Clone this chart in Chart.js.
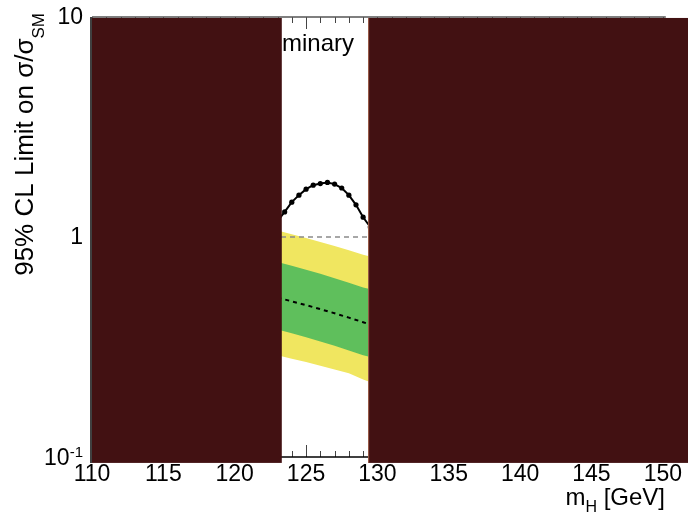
<!DOCTYPE html>
<html>
<head>
<meta charset="utf-8">
<script src="https://cdn.jsdelivr.net/npm/chart.js@4.4.1/dist/chart.umd.min.js"></script>
<style>
  html, body { margin: 0; padding: 0; background: #fff; }
  #wrap { width: 688px; height: 518px; }
</style>
</head>
<body>
<div id="wrap"><canvas id="c" width="688" height="518"></canvas></div>
<script>
// ---- data ----
const massObs = [123, 123.5, 124, 124.5, 125, 125.5, 126, 126.5, 127, 127.5, 128, 128.5, 129, 129.5, 130];
const obsLimit = [1.18, 1.30, 1.44, 1.55, 1.65, 1.72, 1.75, 1.77, 1.74, 1.67, 1.55, 1.40, 1.23, 1.11, 1.00];

const massBand = [123, 124, 125, 126, 127, 128, 129, 130];
const expLimit = [0.53, 0.51, 0.49, 0.47, 0.45, 0.43, 0.41, 0.39];
const sigma1Up = [0.77, 0.74, 0.71, 0.68, 0.65, 0.62, 0.59, 0.57];
const sigma1Dn = [0.38, 0.365, 0.35, 0.335, 0.32, 0.305, 0.29, 0.28];
const sigma2Up = [1.07, 1.03, 0.99, 0.95, 0.91, 0.87, 0.83, 0.80];
const sigma2Dn = [0.29, 0.28, 0.27, 0.26, 0.25, 0.24, 0.225, 0.213];

const refMass = [110, 150];
const refLevel = [1, 1];

// excluded mass ranges (dark boxes)
const exclFrom = [110, 129.35];
const exclTo = [123.3, 151.8];
const exclYLow = 0.094;
const exclYHigh = 9.9;

const xTickValues = [110, 115, 120, 125, 130, 135, 140, 145, 150];
const yTickValues = [0.1, 1, 10];
const yTickBase = ["10", "1", "10"];
const yTickExp = ["-1", "", ""];

const FONT = '"Liberation Sans", Arial, Helvetica, sans-serif';

const pts = (xs, ys) => xs.map((x, i) => ({x: x, y: ys[i]}));

const decor = {
  id: 'decor',
  beforeDatasetsDraw(chart) {
    const {ctx, chartArea: a, scales: {x}} = chart;
    ctx.save();
    // label partly hidden behind the boxes
    ctx.fillStyle = '#000';
    ctx.textAlign = 'right';
    ctx.textBaseline = 'alphabetic';
    ctx.font = '24px ' + FONT;
    ctx.fillText('Preliminary', a.left + 262, 51);
    const wPre = ctx.measureText('Preliminary ').width;
    ctx.font = 'italic bold 24px ' + FONT;
    ctx.fillText('ATLAS', a.left + 262 - wPre, 51);

    // inward ticks, top and bottom
    ctx.strokeStyle = '#444';
    ctx.lineWidth = 1;
    for (let m = refMass[0]; m <= refMass[1]; m++) {
      const px = Math.round(x.getPixelForValue(m)) + 0.5;
      const len = (m % 5 === 0) ? 12 : 6;
      ctx.beginPath();
      ctx.moveTo(px, a.bottom); ctx.lineTo(px, a.bottom - len);
      ctx.moveTo(px, a.top); ctx.lineTo(px, a.top + len);
      ctx.stroke();
    }
    // bottom axis line
    ctx.strokeStyle = '#000';
    ctx.lineWidth = 1.5;
    ctx.beginPath();
    ctx.moveTo(a.left, a.bottom); ctx.lineTo(a.right + 3, a.bottom);
    ctx.stroke();
    // top frame line
    ctx.strokeStyle = '#555';
    ctx.lineWidth = 1.5;
    ctx.beginPath();
    ctx.moveTo(a.left, a.top); ctx.lineTo(a.right + 3, a.top);
    ctx.stroke();
    ctx.restore();
  },
  afterDatasetsDraw(chart) {
    const {ctx, chartArea: a, scales: {x, y}} = chart;
    ctx.save();
    const yT = y.getPixelForValue(exclYHigh);
    const yB = y.getPixelForValue(exclYLow);
    for (let i = 0; i < exclFrom.length; i++) {
      const x0 = x.getPixelForValue(exclFrom[i]);
      const x1 = x.getPixelForValue(exclTo[i]);
      ctx.fillStyle = '#421112';
      ctx.fillRect(x0, yT, x1 - x0, yB - yT);
      if (i > 0) {
        ctx.fillStyle = '#a0604c';
        ctx.fillRect(x0, yT, 1, yB - yT);
      }
    }
    // left axis line
    ctx.strokeStyle = '#000';
    ctx.lineWidth = 1.5;
    ctx.beginPath();
    ctx.moveTo(a.left - 1, a.top); ctx.lineTo(a.left - 1, yB);
    ctx.stroke();
    ctx.restore();
  },
  afterDraw(chart) {
    const {ctx, chartArea: a, scales: {y}} = chart;
    ctx.save();
    ctx.fillStyle = '#000';
    // y tick labels with exponents
    const rightEdge = a.left - 9;
    yTickValues.forEach((v, i) => {
      const py = y.getPixelForValue(v);
      let xr = rightEdge;
      if (yTickExp[i]) {
        ctx.font = '15px ' + FONT;
        ctx.textAlign = 'right';
        ctx.textBaseline = 'alphabetic';
        ctx.fillText(yTickExp[i], xr, py);
        xr -= ctx.measureText(yTickExp[i]).width;
        ctx.font = '23px ' + FONT;
        ctx.textBaseline = 'middle';
        ctx.fillText(yTickBase[i], xr, py + 2);
      } else {
        ctx.font = '23px ' + FONT;
        ctx.textAlign = 'right';
        ctx.textBaseline = 'middle';
        ctx.fillText(yTickBase[i], xr, py + 1);
      }
    });

    // y title (rotated, top aligned)
    ctx.save();
    ctx.translate(33, 13);
    ctx.rotate(-Math.PI / 2);
    ctx.textBaseline = 'alphabetic';
    ctx.textAlign = 'right';
    ctx.font = '17px ' + FONT;
    ctx.fillText('SM', 0, 11);
    const wSM = ctx.measureText('SM').width;
    ctx.font = '26px ' + FONT;
    ctx.fillText('95% CL Limit on \u03c3/\u03c3', -wSM, 0);
    ctx.restore();

    // x title
    ctx.textAlign = 'left';
    ctx.textBaseline = 'alphabetic';
    ctx.font = '24px ' + FONT;
    const wM = ctx.measureText('m').width;
    const wRest = ctx.measureText(' [GeV]').width;
    ctx.font = '16px ' + FONT;
    const wH = ctx.measureText('H').width;
    const endX = 665;
    let sx = endX - wRest - wH - wM;
    ctx.font = '24px ' + FONT;
    ctx.fillText('m', sx, 505);
    ctx.font = '16px ' + FONT;
    ctx.fillText('H', sx + wM, 512);
    ctx.font = '24px ' + FONT;
    ctx.fillText(' [GeV]', sx + wM + wH, 505);
    ctx.restore();
  }
};

new Chart(document.getElementById('c'), {
  type: 'line',
  data: {
    datasets: [
      { label: 'Observed', data: pts(massObs, obsLimit), borderColor: '#000', backgroundColor: '#000',
        borderWidth: 2, pointRadius: 2.6, pointBackgroundColor: '#000', pointBorderWidth: 0, fill: false, tension: 0 },
      { label: 'Expected', data: pts(massBand, expLimit), borderColor: '#000', borderWidth: 2,
        borderDash: [4, 4], pointRadius: 0, fill: false },
      { label: 'SM', data: pts(refMass, refLevel), borderColor: '#8a8a8a', borderWidth: 1.5,
        borderDash: [5, 4], pointRadius: 0, fill: false },
      { label: '1 sigma up', data: pts(massBand, sigma1Up), borderWidth: 0, borderColor: 'rgba(0,0,0,0)',
        backgroundColor: '#5fbf5c', pointRadius: 0, fill: '+1' },
      { label: '1 sigma down', data: pts(massBand, sigma1Dn), borderWidth: 0, borderColor: 'rgba(0,0,0,0)',
        pointRadius: 0, fill: false },
      { label: '2 sigma up', data: pts(massBand, sigma2Up), borderWidth: 0, borderColor: 'rgba(0,0,0,0)',
        backgroundColor: '#f0e660', pointRadius: 0, fill: '+1' },
      { label: '2 sigma down', data: pts(massBand, sigma2Dn), borderWidth: 0, borderColor: 'rgba(0,0,0,0)',
        pointRadius: 0, fill: false }
    ]
  },
  options: {
    responsive: false,
    animation: false,
    devicePixelRatio: 1,
    layout: { padding: { top: 17, right: 24, left: 0, bottom: 0 } },
    plugins: { legend: { display: false }, tooltip: { enabled: false }, title: { display: false } },
    scales: {
      x: {
        type: 'linear', min: 110, max: 150,
        afterBuildTicks: s => { s.ticks = xTickValues.map(v => ({value: v})); },
        afterFit: s => { s.height = 61; },
        grid: { display: false, drawTicks: false },
        border: { display: false },
        ticks: { color: '#000', font: { family: FONT, size: 23, lineHeight: 1 }, padding: 6,
                 autoSkip: false, maxRotation: 0 }
      },
      y: {
        type: 'logarithmic', min: 0.1, max: 10,
        afterBuildTicks: s => { s.ticks = yTickValues.map(v => ({value: v})); },
        afterFit: s => { s.width = 92; },
        grid: { display: false, drawTicks: false },
        border: { display: false },
        ticks: { display: false }
      }
    }
  },
  plugins: [decor]
});
</script>
</body>
</html>
